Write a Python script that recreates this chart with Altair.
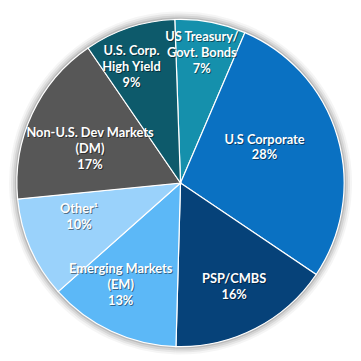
import altair as alt
import pandas as pd

categories = ["US Treasury/\nGovt. Bonds", "U.S Corporate", "PSP/CMBS",
              "Emerging Markets\n(EM)", "Other\u00b9", "Non-U.S. Dev Markets\n(DM)",
              "U.S. Corp.\nHigh Yield"]
values = [7, 28, 16, 13, 10, 17, 9]
colors = ["#1590ac", "#0a71c2", "#064279", "#5cb8f7", "#9ad2fb", "#575757", "#0d5a6b"]

df = pd.DataFrame({
    "cat": categories,
    "val": values,
    "order": list(range(len(values))),
})
df["label"] = [c + "\n" + str(v) + "%" for c, v in zip(categories, values)]
total = sum(values)

start = -0.035
tau = 6.283185307
tscale = alt.Scale(domain=[0, total], range=[start, start + tau])

base = alt.Chart(df).transform_stack(
    stack="val", groupby=[], as_=["v0", "v1"], sort=[alt.SortField("order", order="ascending")]
).transform_calculate(mid="(datum.v0 + datum.v1) / 2")

shadows = [
    base.mark_arc(radius=166 + r, color="#000000", opacity=op).encode(
        theta=alt.Theta("v0:Q", scale=tscale), theta2="v1:Q")
    for r, op in [(8, 0.04), (6, 0.06), (4, 0.08), (2, 0.12)]
]

pie = base.mark_arc(radius=166, stroke="white", strokeWidth=1.2).encode(
    theta=alt.Theta("v0:Q", scale=tscale),
    theta2="v1:Q",
    color=alt.Color("cat:N", scale=alt.Scale(domain=categories, range=colors), legend=None),
)

# label placement (layout only): radius from the centre and small nudges
LINE_H = 16
label_layout = {
    categories[0]: (134, -3, 0),
    categories[1]: (92, -3, -10),
    categories[2]: (119, 0, 0),
    categories[3]: (120, -10, -5),
    categories[4]: (108, -4, -9),
    categories[5]: (98, -3, 7),
    categories[6]: (127, -10, 3),
}

texts = []
for cat, (rad, ddx, ddy) in label_layout.items():
    n_lines = cat.count("\n") + 2
    block = -(n_lines - 1) * LINE_H / 2
    sub = base.transform_filter(alt.datum.cat == cat)
    common = dict(radius=rad, font="Lato", fontWeight="bold", fontSize=13,
                  lineBreak="\n", lineHeight=LINE_H, baseline="middle")
    texts.append(sub.mark_text(color="#000000", opacity=0.45, dx=ddx + 1, dy=ddy + block + 1, **common).encode(
        theta=alt.Theta("mid:Q", scale=tscale), text="label:N"))
    texts.append(sub.mark_text(color="white", dx=ddx, dy=ddy + block, **common).encode(
        theta=alt.Theta("mid:Q", scale=tscale), text="label:N"))

chart = alt.layer(*shadows, pie, *texts).properties(
    width=350, height=350, autosize=alt.AutoSizeParams(type="none"), padding=0
).configure_view(stroke=None)

chart.save("out.html", embed_options={"renderer": "svg", "actions": False})
